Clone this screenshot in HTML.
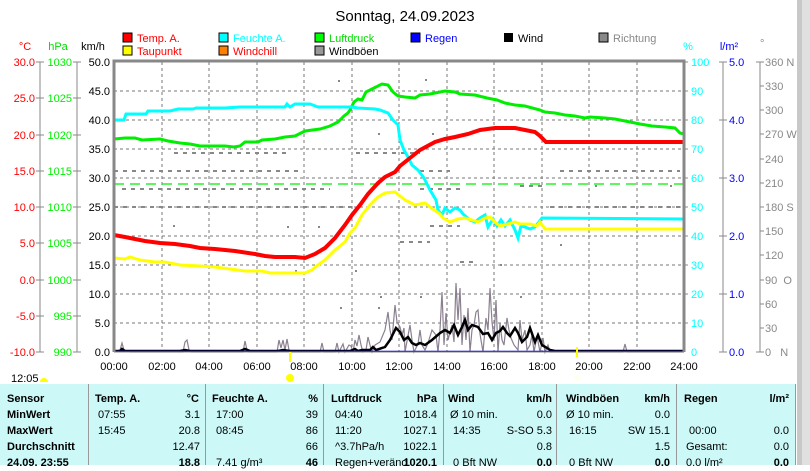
<!DOCTYPE html>
<html><head><meta charset="utf-8"><style>
body{margin:0;width:810px;height:465px;overflow:hidden;background:#fff;font-family:"Liberation Sans",sans-serif;position:relative}
.tb{position:absolute;left:0;top:384px;width:796px;height:81px;background:#ccf8f8}
.sep{position:absolute;top:384px;width:1px;height:81px;background:#999}
.c{position:absolute;font-size:11px;white-space:nowrap;line-height:16px}
.b{font-weight:bold}
.r{text-align:right}
</style></head><body>
<svg width="810" height="465" style="position:absolute;left:0;top:0" font-family="Liberation Sans, sans-serif" font-size="11">
<rect x="797" y="0" width="13" height="465" fill="#c8c8c8"/>
<rect x="802" y="0" width="8" height="465" fill="#e0e0e0"/>
<text x="405" y="21" text-anchor="middle" font-size="15">Sonntag, 24.09.2023</text>
<rect x="123" y="33" width="9" height="9" fill="red" stroke="#000"/><text x="137" y="42" fill="red">Temp. A.</text>
<rect x="123" y="46" width="9" height="9" fill="yellow" stroke="#000"/><text x="137" y="55" fill="red">Taupunkt</text>
<rect x="219" y="33" width="9" height="9" fill="cyan" stroke="#000"/><text x="233" y="42" fill="cyan">Feuchte A.</text>
<rect x="219" y="46" width="9" height="9" fill="#ff8000" stroke="#000"/><text x="233" y="55" fill="red">Windchill</text>
<rect x="315" y="33" width="9" height="9" fill="lime" stroke="#000"/><text x="329" y="42" fill="#00dd00">Luftdruck</text>
<rect x="315" y="46" width="9" height="9" fill="#999" stroke="#000"/><text x="329" y="55">Windböen</text>
<rect x="411" y="33" width="9" height="9" fill="blue" stroke="#000"/><text x="425" y="42" fill="blue">Regen</text>
<rect x="504" y="33" width="9" height="9" fill="#000"/><text x="518" y="42">Wind</text>
<rect x="599" y="33" width="9" height="9" fill="#888" stroke="#000"/><text x="613" y="42" fill="#888">Richtung</text>
<text x="25" y="50" fill="red" text-anchor="middle">°C</text>
<text x="58" y="50" fill="#00dd00" text-anchor="middle">hPa</text>
<text x="93" y="50" text-anchor="middle">km/h</text>
<text x="688" y="50" fill="cyan" text-anchor="middle">%</text>
<text x="729" y="50" fill="blue" text-anchor="middle">l/m²</text>
<text x="760" y="47" fill="#888">°</text>
<g stroke="#888" fill="none">
<line x1="40" y1="62" x2="40" y2="352"/><line x1="77" y1="62" x2="77" y2="352"/>
<line x1="723" y1="62" x2="723" y2="352"/><line x1="760" y1="62" x2="760" y2="352"/>
</g>
<g stroke="#777" stroke-dasharray="3,3">
<line x1="162" y1="62" x2="162" y2="352"/><line x1="209" y1="62" x2="209" y2="352"/><line x1="257" y1="62" x2="257" y2="352"/><line x1="304" y1="62" x2="304" y2="352"/><line x1="352" y1="62" x2="352" y2="352"/><line x1="399" y1="62" x2="399" y2="352"/><line x1="447" y1="62" x2="447" y2="352"/><line x1="494" y1="62" x2="494" y2="352"/><line x1="542" y1="62" x2="542" y2="352"/><line x1="589" y1="62" x2="589" y2="352"/><line x1="637" y1="62" x2="637" y2="352"/>
<line x1="114" y1="91" x2="684" y2="91"/><line x1="114" y1="120" x2="684" y2="120"/><line x1="114" y1="149" x2="684" y2="149"/><line x1="114" y1="178" x2="684" y2="178"/><line x1="114" y1="207" x2="684" y2="207"/><line x1="114" y1="236" x2="684" y2="236"/><line x1="114" y1="265" x2="684" y2="265"/><line x1="114" y1="294" x2="684" y2="294"/><line x1="114" y1="323" x2="684" y2="323"/>
</g>
<!-- direction marks -->
<g stroke="#888" stroke-width="2" stroke-dasharray="4,5">
<line x1="174" y1="153" x2="290" y2="153"/><line x1="356" y1="153" x2="420" y2="153"/>
<line x1="114" y1="171" x2="300" y2="171"/><line x1="420" y1="171" x2="450" y2="171"/><line x1="560" y1="171" x2="680" y2="171"/>
<line x1="122" y1="189" x2="330" y2="189"/><line x1="420" y1="189" x2="460" y2="189"/><line x1="520" y1="186" x2="545" y2="186"/>
<line x1="114" y1="207" x2="360" y2="207"/><line x1="550" y1="207" x2="684" y2="207"/>
<line x1="400" y1="242" x2="430" y2="242"/><line x1="430" y1="226" x2="460" y2="226"/><line x1="460" y1="262" x2="475" y2="262"/>
</g>
<g fill="#888">
<rect x="338" y="80" width="2" height="2"/><rect x="425" y="79" width="2" height="2"/><rect x="378" y="133" width="2" height="2"/><rect x="432" y="133" width="2" height="2"/><rect x="287" y="226" width="2" height="2"/><rect x="318" y="226" width="2" height="2"/><rect x="173" y="225" width="2" height="2"/><rect x="380" y="296" width="2" height="2"/><rect x="420" y="296" width="2" height="2"/><rect x="500" y="264" width="2" height="2"/><rect x="520" y="296" width="2" height="2"/><rect x="340" y="307" width="2" height="2"/><rect x="378" y="307" width="2" height="2"/><rect x="295" y="270" width="2" height="2"/><rect x="355" y="270" width="2" height="2"/><rect x="560" y="244" width="2" height="2"/><rect x="595" y="185" width="2" height="2"/><rect x="670" y="185" width="2" height="2"/>
</g>
<line x1="114" y1="184" x2="684" y2="184" stroke="#00ee00" stroke-dasharray="10,6" stroke-width="1.2"/>
<polyline fill="none" stroke="#8a8090" stroke-width="1.2" points="114,352 120,350 122,343 124,350 130,352 183,352 185,342 187,340 189,350 191,352 243,352 245,341 247,350 249,352 277,352 279,340 281,348 283,340 285,350 287,339 289,350 292,352 320,352 322,343 324,352 335,352 337,343 339,352 343,344 345,352 349,345 351,346 353,352 355,340 357,346 359,335 361,345 363,352 366,350 368,337 370,345 372,352 375,345 380,342 385,330 388,312 390,330 392,340 395,305 397,322 400,327 402,335 404,328 405,352 410,325 412,340 414,352 418,344 420,330 422,345 425,350 428,343 432,330 436,335 438,352 440,330 442,292 444,345 446,313 448,340 452,325 454,342 456,283 458,320 460,288 462,345 464,315 466,340 468,308 470,352 472,330 474,325 476,312 478,310 480,334 483,352 486,318 488,330 490,288 492,322 494,340 496,300 498,352 500,323 502,340 504,345 507,318 509,330 511,338 514,345 518,350 520,320 522,340 525,330 527,350 530,345 532,335 534,352 537,336 540,352 543,338 545,352 548,345 550,352 555,352 623,352 625,344 627,352 684,352"/>
<polyline fill="none" stroke="#000" stroke-width="2.5" points="114,351 120,351 122,349 125,351 180,351 185,350 190,351 240,351 245,349 250,351 278,351 283,350 290,351 330,351 350,351 355,349 358,351 362,350 370,350 373,347 376,350 385,347 390,340 396,328 400,332 404,340 408,337 412,343 416,345 420,343 425,345 432,340 440,333 445,330 450,333 454,325 458,335 462,327 465,320 468,330 472,325 478,327 483,334 488,333 492,340 496,333 500,331 503,327 507,333 510,336 515,328 518,333 522,342 527,337 530,328 535,342 538,335 542,345 547,348 550,350 555,351 684,351"/>
<line x1="114" y1="351.5" x2="684" y2="351.5" stroke="#0000cc" stroke-width="1.5"/>
<polyline fill="none" stroke="#00ee00" stroke-width="3" points="114,139 125,138 135,138 142,140 160,139 168,141 180,143 190,144 200,146 215,146 225,146 234,147 240,146 245,142 258,142 262,140 275,139 285,137 295,136 305,131 320,129 330,126 338,122 344,116 348,113 350,110 354,102 358,99 362,100 366,92 374,88 382,84 388,85 393,92 398,96 405,97 415,98 420,95 430,94 445,91 455,92 460,94 475,95 487,98 497,100 505,103 515,105 525,106 540,110 545,112 555,113 565,115 575,116 585,118 590,117 605,118 615,119 630,122 640,124 652,126 665,127 675,128 680,133 684,134"/>
<polyline fill="none" stroke="#00ffff" stroke-width="3" points="114,120 124,120 126,114 146,114 148,111 170,111 178,109 193,109 196,108 225,108 240,107 285,107 287,104 290,107 295,104 310,104 318,107 330,107 337,107 345,107 352,107 358,108 375,109 380,110 388,113 393,120 398,125 400,140 404,150 408,157 412,165 418,170 424,178 430,190 436,200 438,210 442,215 445,208 450,212 455,208 460,210 463,214 470,220 475,222 480,218 485,215 488,227 493,219 497,226 501,220 505,226 510,220 515,230 518,238 521,226 525,227 530,229 535,227 542,218 684,219"/>
<polyline fill="none" stroke="#ffff00" stroke-width="3" points="114,258 125,259 130,257 140,260 155,262 165,262 180,265 200,266 215,267 230,269 245,271 262,271 270,273 290,273 305,273 312,270 318,265 325,260 335,250 345,242 350,233 355,228 362,215 370,205 378,197 385,193 395,192 405,200 415,205 425,203 430,207 440,214 443,218 450,222 458,219 465,218 472,220 478,222 485,218 490,217 495,222 500,226 508,224 515,222 520,224 530,224 537,226 540,222 545,229 684,229"/>
<polyline fill="none" stroke="#ff0000" stroke-width="4" points="114,235 125,237 135,239 145,241 160,243 175,244 190,246 200,248 215,249 235,251 255,254 265,256 275,257 295,257 305,258 315,254 325,248 335,238 345,225 352,215 360,205 368,194 378,183 385,177 395,172 400,166 410,158 420,150 435,142 445,139 455,137 468,134 480,130 495,128 515,128 525,130 535,132 540,136 546,142 684,142"/>
<polyline fill="none" stroke="#888" stroke-width="3" points="114,352 114,61 684,61 684,352"/>
<line x1="114" y1="352" x2="684" y2="352" stroke="#888"/>
<g text-anchor="end">
<text x="35" y="66" fill="red">30.0</text><text x="35" y="102" fill="red">25.0</text><text x="35" y="139" fill="red">20.0</text><text x="35" y="175" fill="red">15.0</text><text x="35" y="211" fill="red">10.0</text><text x="35" y="247" fill="red">5.0</text><text x="35" y="284" fill="red">0.0</text><text x="35" y="320" fill="red">-5.0</text><text x="35" y="356" fill="red">-10.0</text>
<text x="72" y="66" fill="#00ee00">1030</text><text x="72" y="102" fill="#00ee00">1025</text><text x="72" y="139" fill="#00ee00">1020</text><text x="72" y="175" fill="#00ee00">1015</text><text x="72" y="211" fill="#00ee00">1010</text><text x="72" y="247" fill="#00ee00">1005</text><text x="72" y="284" fill="#00ee00">1000</text><text x="72" y="320" fill="#00ee00">995</text><text x="72" y="356" fill="#00ee00">990</text>
<text x="110" y="66">50.0</text><text x="110" y="95">45.0</text><text x="110" y="124">40.0</text><text x="110" y="153">35.0</text><text x="110" y="182">30.0</text><text x="110" y="211">25.0</text><text x="110" y="240">20.0</text><text x="110" y="269">15.0</text><text x="110" y="298">10.0</text><text x="110" y="327">5.0</text><text x="110" y="356">0.0</text>
</g>
<g stroke="#888">
<line x1="36" y1="62" x2="44" y2="62"/><line x1="36" y1="98" x2="44" y2="98"/><line x1="36" y1="135" x2="44" y2="135"/><line x1="36" y1="171" x2="44" y2="171"/><line x1="36" y1="207" x2="44" y2="207"/><line x1="36" y1="243" x2="44" y2="243"/><line x1="36" y1="280" x2="44" y2="280"/><line x1="36" y1="316" x2="44" y2="316"/><line x1="36" y1="352" x2="44" y2="352"/>
<line x1="73" y1="62" x2="81" y2="62"/><line x1="73" y1="98" x2="81" y2="98"/><line x1="73" y1="135" x2="81" y2="135"/><line x1="73" y1="171" x2="81" y2="171"/><line x1="73" y1="207" x2="81" y2="207"/><line x1="73" y1="243" x2="81" y2="243"/><line x1="73" y1="280" x2="81" y2="280"/><line x1="73" y1="316" x2="81" y2="316"/><line x1="73" y1="352" x2="81" y2="352"/>
<line x1="684" y1="62" x2="688" y2="62"/><line x1="684" y1="91" x2="688" y2="91"/><line x1="684" y1="120" x2="688" y2="120"/><line x1="684" y1="149" x2="688" y2="149"/><line x1="684" y1="178" x2="688" y2="178"/><line x1="684" y1="207" x2="688" y2="207"/><line x1="684" y1="236" x2="688" y2="236"/><line x1="684" y1="265" x2="688" y2="265"/><line x1="684" y1="294" x2="688" y2="294"/><line x1="684" y1="323" x2="688" y2="323"/>
<line x1="719" y1="62" x2="727" y2="62"/><line x1="719" y1="120" x2="727" y2="120"/><line x1="719" y1="178" x2="727" y2="178"/><line x1="719" y1="236" x2="727" y2="236"/><line x1="719" y1="294" x2="727" y2="294"/><line x1="719" y1="352" x2="727" y2="352"/>
<line x1="756" y1="62" x2="764" y2="62"/><line x1="760" y1="86" x2="764" y2="86"/><line x1="760" y1="110" x2="764" y2="110"/><line x1="760" y1="134" x2="764" y2="134"/><line x1="760" y1="159" x2="764" y2="159"/><line x1="760" y1="183" x2="764" y2="183"/><line x1="760" y1="207" x2="764" y2="207"/><line x1="760" y1="231" x2="764" y2="231"/><line x1="760" y1="255" x2="764" y2="255"/><line x1="760" y1="280" x2="764" y2="280"/><line x1="760" y1="304" x2="764" y2="304"/><line x1="760" y1="328" x2="764" y2="328"/><line x1="756" y1="352" x2="764" y2="352"/>
</g>
<g fill="cyan">
<text x="691" y="66">100</text><text x="691" y="95">90</text><text x="691" y="124">80</text><text x="691" y="153">70</text><text x="691" y="182">60</text><text x="691" y="211">50</text><text x="691" y="240">40</text><text x="691" y="269">30</text><text x="691" y="298">20</text><text x="691" y="327">10</text><text x="691" y="356">0</text>
</g>
<g fill="blue">
<text x="729" y="66">5.0</text><text x="729" y="124">4.0</text><text x="729" y="182">3.0</text><text x="729" y="240">2.0</text><text x="729" y="298">1.0</text><text x="729" y="356">0.0</text>
</g>
<g fill="#888">
<text x="765" y="66">360 N</text><text x="765" y="90">330</text><text x="765" y="114">300</text><text x="765" y="138">270 W</text><text x="765" y="163">240</text><text x="765" y="187">210</text><text x="765" y="211">180 S</text><text x="765" y="235">150</text><text x="765" y="259">120</text><text x="765" y="284">90 &#160;O</text><text x="765" y="308">60</text><text x="765" y="332">30</text><text x="765" y="356">0 &#160;&#160;N</text>
</g>
<g text-anchor="middle">
<text x="114" y="370">00:00</text><text x="162" y="370">02:00</text><text x="209" y="370">04:00</text><text x="257" y="370">06:00</text><text x="304" y="370">08:00</text><text x="352" y="370">10:00</text><text x="399" y="370">12:00</text><text x="447" y="370">14:00</text><text x="494" y="370">16:00</text><text x="542" y="370">18:00</text><text x="589" y="370">20:00</text><text x="637" y="370">22:00</text><text x="684" y="370">24:00</text>
</g>
<line x1="290" y1="352" x2="290" y2="362" stroke="#ff0" stroke-width="2"/>
<line x1="577" y1="347" x2="577" y2="357" stroke="#ff0" stroke-width="2"/>
<circle cx="290" cy="378" r="4" fill="#ff0"/>
<circle cx="577" cy="378" r="3" fill="#ffe"/>
<text x="11" y="382">12:05</text>
<path d="M40,382 a4,4 0 0 1 8,0 z" fill="#ff0"/>
</svg>
<div class="tb"></div>
<div class="sep" style="left:88px"></div><div class="sep" style="left:205px"></div><div class="sep" style="left:323px"></div><div class="sep" style="left:443px"></div><div class="sep" style="left:556px"></div><div class="sep" style="left:676px"></div><div class="sep" style="left:795px"></div>
<div class="c b" style="left:7px;top:391px">Sensor<br>MinWert<br>MaxWert<br>Durchschnitt<br>24.09. 23:55</div>
<div class="c b" style="left:95px;top:391px">Temp. A.</div>
<div class="c b r" style="left:160px;width:39px;top:391px">°C</div>
<div class="c" style="left:98px;top:407px">07:55<br>15:45</div>
<div class="c r" style="left:150px;width:50px;top:407px">3.1<br>20.8<br>12.47<br><b>18.8</b></div>
<div class="c b" style="left:212px;top:391px">Feuchte A.</div>
<div class="c b r" style="left:290px;width:28px;top:391px">%</div>
<div class="c" style="left:216px;top:407px">17:00<br>08:45<br><br>7.41 g/m³</div>
<div class="c r" style="left:280px;width:38px;top:407px">39<br>86<br>66<br><b>46</b></div>
<div class="c b" style="left:331px;top:391px">Luftdruck</div>
<div class="c b r" style="left:400px;width:37px;top:391px">hPa</div>
<div class="c" style="left:335px;top:407px">04:40<br>11:20<br>^3.7hPa/h<br>Regen+veränd.</div>
<div class="c r" style="left:395px;width:42px;top:407px">1018.4<br>1027.1<br>1022.1<br><b>1020.1</b></div>
<div class="c b" style="left:448px;top:391px">Wind</div>
<div class="c b r" style="left:510px;width:42px;top:391px">km/h</div>
<div class="c" style="left:450px;top:407px">Ø 10 min.<br>&#160;14:35<br><br>&#160;0 Bft NW</div>
<div class="c r" style="left:500px;width:52px;top:407px">0.0<br>S-SO 5.3<br>0.8<br><b>0.0</b></div>
<div class="c b" style="left:566px;top:391px">Windböen</div>
<div class="c b r" style="left:628px;width:42px;top:391px">km/h</div>
<div class="c" style="left:566px;top:407px">Ø 10 min.<br>&#160;16:15<br><br>&#160;0 Bft NW</div>
<div class="c r" style="left:610px;width:60px;top:407px">0.0<br>SW 15.1<br>1.5<br><b>0.0</b></div>
<div class="c b" style="left:684px;top:391px">Regen</div>
<div class="c b r" style="left:750px;width:39px;top:391px">l/m²</div>
<div class="c" style="left:686px;top:407px"><br>&#160;00:00<br>Gesamt:<br>0.0 l/m²</div>
<div class="c r" style="left:750px;width:39px;top:407px"><br>0.0<br>0.0<br><b>0.0</b></div>
</body></html>
